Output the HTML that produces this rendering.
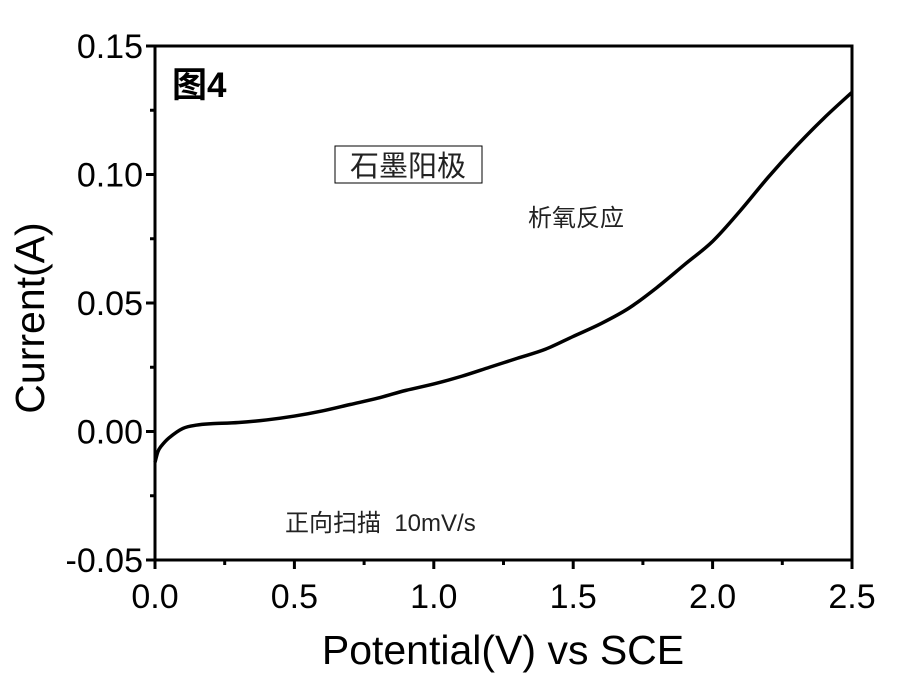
<!DOCTYPE html>
<html><head><meta charset="utf-8"><style>
body{margin:0;background:#fff;}
svg{display:block;font-family:"Liberation Sans","Noto Sans CJK SC",sans-serif;}
</style></head><body>
<svg id="chart" width="900" height="692">
<g id="axes"></g>
<path id="curve" fill="none" stroke="#000" stroke-width="3.5"/>
<text x="172" y="97" font-size="35" font-weight="bold">图4</text>
<rect x="335" y="146" width="147" height="37" fill="none" stroke="#000" stroke-width="1"/>
<text x="408" y="176" font-size="29" text-anchor="middle" fill="#222">石墨阳极</text>
<text x="528" y="226" font-size="24" fill="#222">析氧反应</text>
<text x="285" y="531" font-size="24" fill="#222" xml:space="preserve">正向扫描  10mV/s</text>
<text x="503" y="664" font-size="41" text-anchor="middle">Potential(V) vs SCE</text>
<text transform="translate(44,318) rotate(-90)" font-size="41" text-anchor="middle">Current(A)</text>
</svg>
<script>
const xVals=[0,0.01,0.02,0.05,0.1,0.15,0.2,0.3,0.4,0.5,0.6,0.7,0.8,0.9,1.0,1.1,1.2,1.3,1.4,1.5,1.6,1.7,1.8,1.9,2.0,2.1,2.2,2.3,2.4,2.5];
const yVals=[-0.012,-0.008,-0.006,-0.0025,0.0012,0.0025,0.003,0.0035,0.0045,0.006,0.008,0.0105,0.013,0.016,0.0185,0.0215,0.025,0.0285,0.032,0.037,0.042,0.048,0.056,0.065,0.074,0.086,0.099,0.111,0.122,0.132];
const xTicks=[0,0.5,1.0,1.5,2.0,2.5];
const xTickLabels=["0.0","0.5","1.0","1.5","2.0","2.5"];
const yTicks=[-0.05,0,0.05,0.10,0.15];
const yTickLabels=["-0.05","0.00","0.05","0.10","0.15"];
const L=155,R=852,T=46,B=560;
const sx=v=>L+(v-0)/(2.5)*(R-L);
const sy=v=>B-(v+0.05)/0.2*(B-T);
const ns="http://www.w3.org/2000/svg";
const ax=document.getElementById('axes');
function mk(t,a){const e=document.createElementNS(ns,t);for(const k in a)e.setAttribute(k,a[k]);ax.appendChild(e);return e;}
const frame=mk('rect',{x:L,y:T,width:R-L,height:B-T,fill:'none',stroke:'#000','stroke-width':3});


xTicks.forEach((v,i)=>{
 const l=mk('line',{x1:sx(v),x2:sx(v),y1:B,y2:B+9,stroke:'#000','stroke-width':3});
 
 
 if(i<xTicks.length-1){const m=mk('line',{x1:sx(v+0.25),x2:sx(v+0.25),y1:B,y2:B+5,stroke:'#000','stroke-width':3});
 
 }
 const t=mk('text',{x:sx(v),y:B+48,'font-size':34,'text-anchor':'middle'});t.textContent=xTickLabels[i];
 
 
});
yTicks.forEach((v,i)=>{
 const l=mk('line',{x1:L-9,x2:L,y1:sy(v),y2:sy(v),stroke:'#000','stroke-width':3});
 
 
 if(i<yTicks.length-1){const m=mk('line',{x1:L-5,x2:L,y1:sy(v+0.025),y2:sy(v+0.025),stroke:'#000','stroke-width':3});
 
 }
 const t=mk('text',{x:L-12,y:sy(v)+12,'font-size':34,'text-anchor':'end'});t.textContent=yTickLabels[i];
 
 
});
const pts=xVals.map((x,i)=>[sx(x),sy(yVals[i])]);
let d='M'+pts[0][0]+','+pts[0][1];
for(let i=0;i<pts.length-1;i++){
 const p0=pts[Math.max(0,i-1)],p1=pts[i],p2=pts[i+1],p3=pts[Math.min(pts.length-1,i+2)];
 const c1=[p1[0]+(p2[0]-p0[0])/6,p1[1]+(p2[1]-p0[1])/6];
 const c2=[p2[0]-(p3[0]-p1[0])/6,p2[1]-(p3[1]-p1[1])/6];
 d+=`C${c1[0]},${c1[1]} ${c2[0]},${c2[1]} ${p2[0]},${p2[1]}`;
}
document.getElementById('curve').setAttribute('d',d);
</script>
</body></html>
